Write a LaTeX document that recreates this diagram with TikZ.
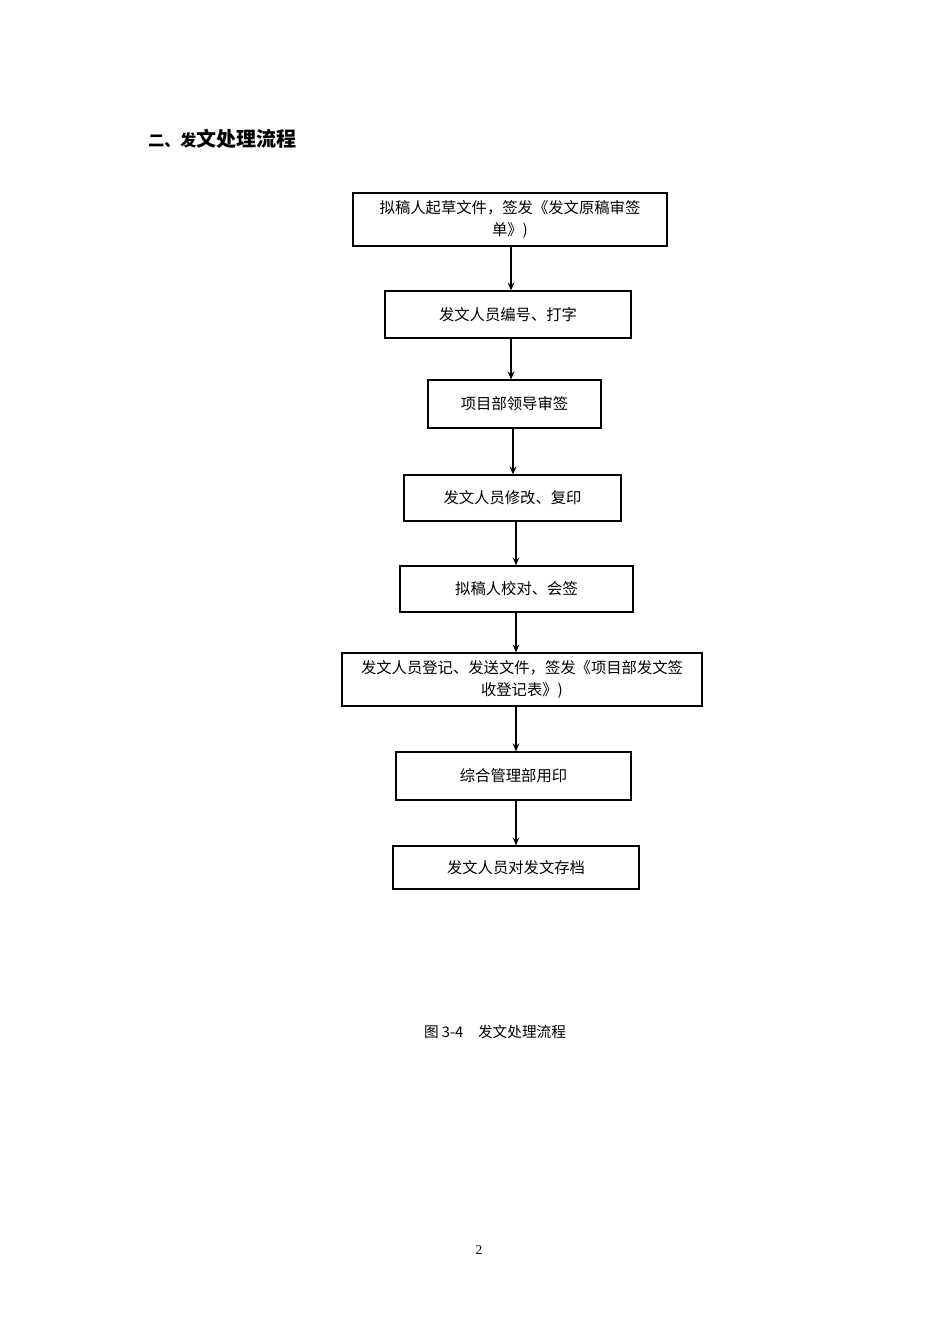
\documentclass[tikz,border=0pt]{standalone}
\usepackage{fontspec}
\setmainfont{Liberation Serif}
\newfontfamily\cjk{Noto Sans CJK SC}
\usetikzlibrary{arrows.meta}
\begin{document}
\begin{tikzpicture}[x=0.75pt,y=-0.75pt,
  box/.style={draw,line width=0.8pt,inner sep=0pt,font=\cjk\fontsize{11.5}{17}\selectfont,align=center},
  arr/.style={-{Stealth[length=6pt,width=5pt]},line width=1pt}]
\useasboundingbox (0,0) rectangle (950,1344);
\node[box,minimum width=314\pgflinewidth,text width=300*0.75pt,minimum width=314*0.75pt,minimum height=53*0.75pt] (n1) at (510,219.5) {拟稿人起草文件，签发《发文原稿审签\\单》)};
\node[box,minimum width=246*0.75pt,minimum height=47*0.75pt] (n2) at (508,314.5) {发文人员编号、打字};
\draw[line width=1.6pt] (385,291) -- (631,291);
\node[box,minimum width=173*0.75pt,minimum height=48*0.75pt] (n3) at (514.5,404) {项目部领导审签};
\draw[line width=1.6pt] (428,380) -- (601,380);
\node[box,minimum width=217*0.75pt,minimum height=46*0.75pt] (n4) at (512.5,498) {发文人员修改、复印};
\node[box,minimum width=233*0.75pt,minimum height=46*0.75pt] (n5) at (516.5,589) {拟稿人校对、会签};
\node[box,text width=350*0.75pt,minimum width=360*0.75pt,minimum height=53*0.75pt] (n6) at (522,679.5) {发文人员登记、发送文件，签发《项目部发文签\\收登记表》)};
\node[box,minimum width=235*0.75pt,minimum height=48*0.75pt] (n7) at (513.5,776) {综合管理部用印};
\draw[line width=1.6pt] (396,800) -- (396,752) -- (631,752);
\node[box,minimum width=246*0.75pt,minimum height=43*0.75pt] (n8) at (516,867.5) {发文人员对发文存档};
\draw[arr] (n1.south -| 511,0) -- (n2.north -| 511,0);
\draw[arr] (n2.south -| 511,0) -- (n3.north -| 511,0);
\draw[arr] (n3.south -| 513,0) -- (n4.north -| 513,0);
\draw[arr] (n4.south -| 516,0) -- (n5.north -| 516,0);
\draw[arr] (n5.south -| 516,0) -- (n6.north -| 516,0);
\draw[arr] (n6.south -| 516,0) -- (n7.north -| 516,0);
\draw[arr] (n7.south -| 516,0) -- (n8.north -| 516,0);
\node[anchor=base west,inner sep=0pt] (title) at (148,147) {\cjk\bfseries\fontsize{12}{14}\selectfont 二、发\fontsize{15}{18}\selectfont 文处理流程};
\node[inner sep=0pt,font=\cjk\fontsize{11}{13}\selectfont] (cap) at (495,1032) {图 3-4\hspace{1em}发文处理流程};
\node[inner sep=0pt,font=\fontsize{10}{12}\selectfont] (pg) at (479,1250) {2};
\end{tikzpicture}
\end{document}
